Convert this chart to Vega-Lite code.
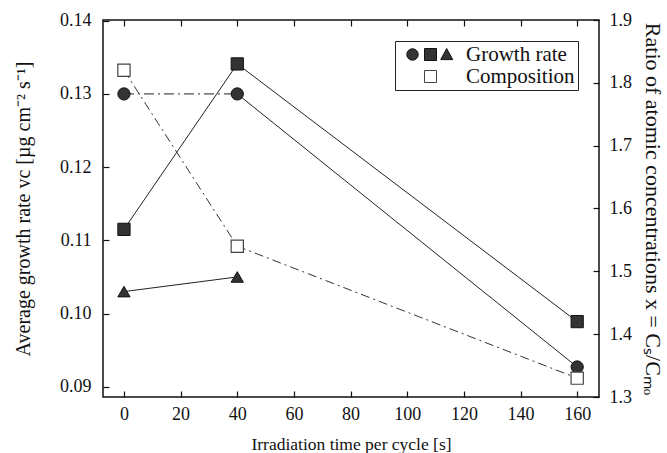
{
  "$schema": "https://vega.github.io/schema/vega-lite/v6.json",
  "width": 496,
  "height": 377,
  "autosize": {"type": "none"},
  "padding": {"left": 103, "top": 20, "right": 68, "bottom": 56},
  "background": "white",
  "config": {
    "font": "Liberation Serif",
    "view": {"stroke": "#111", "strokeWidth": 1.5},
    "axis": {
      "domain": false,
      "grid": false,
      "tickColor": "#111",
      "tickSize": -6,
      "tickWidth": 1.2,
      "labelFont": "Liberation Serif",
      "labelFontSize": 18,
      "labelColor": "#111",
      "titleFont": "Liberation Serif",
      "titleFontSize": 17,
      "titleFontWeight": "normal",
      "titleColor": "#111"
    },
    "legend": {
      "labelFont": "Liberation Serif",
      "labelFontSize": 21,
      "labelColor": "#111"
    }
  },
  "datasets": {
    "growth": [
      {"series": "circle", "t": 0, "v": 0.130},
      {"series": "circle", "t": 40, "v": 0.130},
      {"series": "circle", "t": 160, "v": 0.0927},
      {"series": "square", "t": 0, "v": 0.1115},
      {"series": "square", "t": 40, "v": 0.1341},
      {"series": "square", "t": 160, "v": 0.0989},
      {"series": "triangle", "t": 0, "v": 0.103},
      {"series": "triangle", "t": 40, "v": 0.105}
    ],
    "comp": [
      {"t": 0, "x": 1.82},
      {"t": 40, "x": 1.54},
      {"t": 160, "x": 1.33}
    ],
    "legend": [
      {"kind": "Growth rate"},
      {"kind": "Composition"}
    ]
  },
  "layer": [
    {
      "data": {"name": "growth"},
      "layer": [
        {
          "transform": [{"filter": "datum.series !== 'circle' || datum.t >= 40"}],
          "mark": {"type": "line", "color": "#222", "strokeWidth": 1},
          "encoding": {
            "x": {"field": "t", "type": "quantitative", "scale": {"domain": [-7.4, 167.7], "nice": false, "zero": false},
              "axis": {"orient": "bottom", "values": [0, 20, 40, 60, 80, 100, 120, 140, 160], "labelPadding": 14, "title": "Irradiation time per cycle [s]", "titleFontSize": 17.5, "titlePadding": 12}},
            "y": {"field": "v", "type": "quantitative", "scale": {"domain": [0.0886, 0.1401], "nice": false, "zero": false},
              "axis": {"orient": "left", "values": [0.09, 0.10, 0.11, 0.12, 0.13, 0.14], "format": ".2f", "labelPadding": 18, "title": "Average growth rate vc [µg cm⁻² s⁻¹]", "titleFontSize": 20, "titlePadding": 26}},
            "detail": {"field": "series"}
          }
        },
        {
          "transform": [{"filter": "datum.series === 'circle' && datum.t <= 40"}],
          "mark": {"type": "line", "color": "#222", "strokeWidth": 1, "strokeDash": [10, 4, 2, 4]},
          "encoding": {
            "x": {"field": "t", "type": "quantitative"},
            "y": {"field": "v", "type": "quantitative"}
          }
        },
        {
          "mark": {"type": "point", "filled": true, "fill": "#333", "stroke": "#111", "strokeWidth": 1, "opacity": 1, "size": 150},
          "encoding": {
            "x": {"field": "t", "type": "quantitative"},
            "y": {"field": "v", "type": "quantitative"},
            "shape": {"field": "series", "type": "nominal",
              "scale": {"domain": ["circle", "square", "triangle"], "range": ["circle", "square", "triangle-up"]},
              "legend": null}
          }
        }
      ]
    },
    {
      "data": {"name": "comp"},
      "layer": [
        {
          "mark": {"type": "line", "color": "#333", "strokeWidth": 1, "strokeDash": [9, 4, 2, 4]},
          "encoding": {
            "x": {"field": "t", "type": "quantitative",
              "axis": {"orient": "top", "values": [0, 20, 40, 60, 80, 100, 120, 140, 160], "labels": false, "title": null}},
            "y": {"field": "x", "type": "quantitative", "scale": {"domain": [1.3, 1.9], "nice": false, "zero": false},
              "axis": {"orient": "right", "values": [1.3, 1.4, 1.5, 1.6, 1.7, 1.8, 1.9], "format": ".1f", "labelPadding": 16, "title": "Ratio of atomic concentrations x = Cₛ/Cₘₒ", "titleFontSize": 22, "titlePadding": 9}}
          }
        },
        {
          "mark": {"type": "point", "shape": "square", "filled": true, "fill": "white", "stroke": "#444", "strokeWidth": 1.2, "opacity": 1, "size": 150},
          "encoding": {
            "x": {"field": "t", "type": "quantitative"},
            "y": {"field": "x", "type": "quantitative"}
          }
        }
      ]
    },
    {
      "data": {"name": "legend"},
      "mark": {"type": "point", "filled": true, "opacity": 0, "size": 144},
      "encoding": {
        "shape": {"field": "kind", "type": "nominal",
          "scale": {"domain": ["Growth rate", "Composition"], "range": ["M-2.05,0A0.95,0.95,0,1,1,-3.95,0A0.95,0.95,0,1,1,-2.05,0ZM-1,-1H1V1H-1ZM2.7,-1L3.7,0.85L1.7,0.85Z", "M-1,-1H1V1H-1Z"]},
          "legend": {"title": null, "orient": "top-right", "offset": 21, "padding": 3, "strokeColor": "#222", "fillColor": "white", "symbolOpacity": 1, "symbolSize": 144, "symbolOffset": 22, "labelOffset": 25, "rowPadding": 0, "symbolStrokeWidth": 1, "labelExpr": "datum.label + '\u00a0\u00a0'"}},
        "fill": {"field": "kind", "type": "nominal",
          "scale": {"domain": ["Growth rate", "Composition"], "range": ["#333", "white"]}},
        "stroke": {"field": "kind", "type": "nominal",
          "scale": {"domain": ["Growth rate", "Composition"], "range": ["#111", "#444"]}}
      }
    }
  ],
  "resolve": {
    "scale": {"y": "independent", "shape": "independent", "fill": "independent", "stroke": "independent"},
    "axis": {"x": "independent"}
  }
}
